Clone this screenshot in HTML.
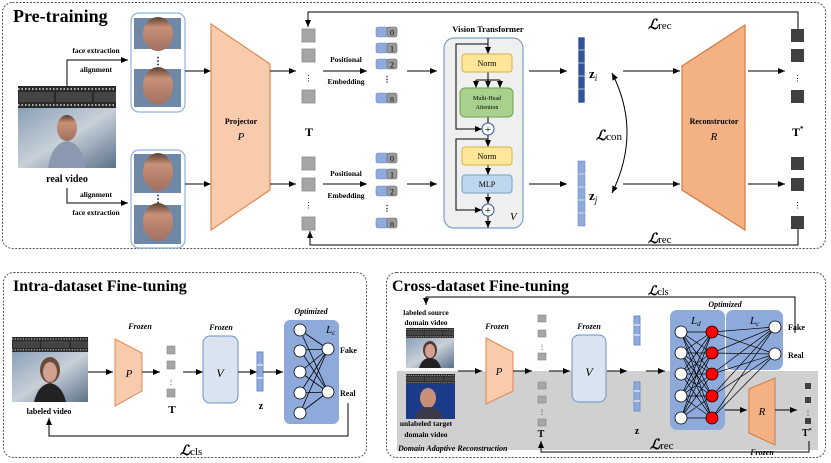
<!DOCTYPE html>
<html><head><meta charset="utf-8"><style>
body{margin:0;background:#fff}
svg{display:block}
text{font-family:"Liberation Serif",serif}
.b{font-weight:bold}
.fr{font-style:italic;font-weight:bold;font-size:8px}
.L{font-family:"DejaVu Serif","Liberation Serif",serif;font-style:italic;font-weight:bold}
.sub{font-style:normal;font-weight:normal;font-family:"Liberation Serif",serif}
</style></head><body>
<svg width="831" height="463" viewBox="0 0 831 463" xmlns="http://www.w3.org/2000/svg">
<defs>
<marker id="a" markerWidth="8" markerHeight="8" refX="7" refY="4" orient="auto" markerUnits="userSpaceOnUse"><path d="M0,1 L7,4 L0,7z" fill="#000"/></marker>
<marker id="as" markerWidth="8" markerHeight="8" refX="0" refY="4" orient="auto" markerUnits="userSpaceOnUse"><path d="M7,1 L0,4 L7,7z" fill="#000"/></marker>
<linearGradient id="bg1" x1="0" y1="0" x2="1" y2="1"><stop offset="0" stop-color="#8aa0b8"/><stop offset="0.5" stop-color="#c8d0d8"/><stop offset="1" stop-color="#5a7088"/></linearGradient>
<linearGradient id="face" x1="0" y1="0" x2="0" y2="1"><stop offset="0" stop-color="#5a4030"/><stop offset="0.3" stop-color="#c89078"/><stop offset="1" stop-color="#a07060"/></linearGradient>
<g id="film"><rect width="98" height="22" fill="#2a2a2a"/><line x1="0" y1="3" x2="98" y2="3" stroke="#ddd" stroke-width="1.5" stroke-dasharray="1.5,2"/><line x1="0" y1="19" x2="98" y2="19" stroke="#ddd" stroke-width="1.5" stroke-dasharray="1.5,2"/><rect x="1" y="6" width="35" height="10" fill="#444"/><rect x="38" y="6" width="36" height="10" fill="#444"/><rect x="76" y="6" width="22" height="10" fill="#444"/></g>
</defs>

<!-- Pre-training -->
<rect x="2.5" y="2.5" width="823" height="246" rx="10" fill="none" stroke="#555" stroke-dasharray="2,1.5"/>
<text x="13" y="22" class="b" font-size="18">Pre-training</text>

<use href="#film" x="18" y="86"/>
<rect x="18" y="108" width="98" height="60" fill="url(#bg1)"/>
<ellipse cx="67" cy="128" rx="10" ry="13" fill="url(#face)"/>
<path d="M48,168 Q52,143 67,141 Q82,143 86,168z" fill="#8a98b0"/>
<text x="67" y="182" text-anchor="middle" class="b" font-size="10">real video</text>
<path d="M67,86 V60 H128" fill="none" stroke="#000" marker-end="url(#a)"/>
<path d="M67,188 V203 H128" fill="none" stroke="#000" marker-end="url(#a)"/>
<g class="b" font-size="7.5" text-anchor="middle"><text x="96" y="53">face extraction</text><text x="96" y="72">alignment</text><text x="96" y="197">alignment</text><text x="96" y="215">face extraction</text></g>

<g fill="none" stroke="#8fb0e0" stroke-width="1.2"><rect x="131" y="13" width="54" height="99" rx="8"/><rect x="131" y="150" width="54" height="98" rx="8"/></g>
<g>
<rect x="134" y="18" width="47" height="31" fill="#7088a8"/><ellipse cx="158" cy="34" rx="15" ry="17" fill="url(#face)"/>
<rect x="134" y="69" width="47" height="38" fill="#7088a8"/><ellipse cx="158" cy="86" rx="15" ry="19" fill="url(#face)"/>
<rect x="134" y="154" width="47" height="39" fill="#7088a8"/><ellipse cx="158" cy="172" rx="15" ry="19" fill="url(#face)"/>
<rect x="134" y="205" width="47" height="39" fill="#7088a8"/><ellipse cx="158" cy="222" rx="15" ry="19" fill="url(#face)"/>
</g>
<text x="158" y="64" text-anchor="middle" font-size="10" class="b">⋮</text>
<text x="158" y="202" text-anchor="middle" font-size="10" class="b">⋮</text>
<line x1="185" y1="71" x2="211" y2="71" stroke="#000" marker-end="url(#a)"/>
<line x1="185" y1="184" x2="211" y2="184" stroke="#000" marker-end="url(#a)"/>

<polygon points="211,24 270,64 270,190 211,230" fill="#f8cbad" stroke="#e08850" stroke-width="1.2"/>
<text x="241" y="124" text-anchor="middle" class="b" font-size="8">Projector</text>
<text x="241" y="140" text-anchor="middle" font-style="italic" font-size="11">P</text>
<line x1="270" y1="71" x2="296" y2="71" stroke="#000" marker-end="url(#a)"/>
<line x1="270" y1="184" x2="296" y2="184" stroke="#000" marker-end="url(#a)"/>

<g fill="#a6a6a6" stroke="#888" stroke-width="0.8">
<rect x="302" y="29" width="13" height="13"/><rect x="302" y="49" width="13" height="13"/><rect x="302" y="90" width="13" height="13"/>
<rect x="302" y="157" width="13" height="13"/><rect x="302" y="178" width="13" height="13"/><rect x="302" y="217" width="13" height="13"/>
</g>
<text x="308.5" y="81" text-anchor="middle" font-size="8">⋮</text>
<text x="308.5" y="208" text-anchor="middle" font-size="8">⋮</text>
<text x="309" y="136" text-anchor="middle" class="b" font-size="12">T</text>

<line x1="323" y1="71" x2="367" y2="71" stroke="#000" marker-end="url(#a)"/>
<line x1="323" y1="184" x2="367" y2="184" stroke="#000" marker-end="url(#a)"/>
<g class="b" font-size="7.5" text-anchor="middle"><text x="346" y="62">Positional</text><text x="346" y="84">Embedding</text><text x="346" y="176">Positional</text><text x="346" y="198">Embedding</text></g>

<g font-family="Liberation Sans" font-size="8" text-anchor="middle">
<g transform="translate(376,27)"><rect width="12" height="10" rx="2" fill="#8faadc" stroke="#6d8fc8" stroke-width="0.6"/><rect x="11" width="10" height="10" rx="2" fill="#999" stroke="#666" stroke-width="0.6"/><text x="16" y="8.5">0</text></g>
<g transform="translate(376,43)"><rect width="12" height="10" rx="2" fill="#8faadc" stroke="#6d8fc8" stroke-width="0.6"/><rect x="11" width="10" height="10" rx="2" fill="#999" stroke="#666" stroke-width="0.6"/><text x="16" y="8.5">1</text></g>
<g transform="translate(376,59)"><rect width="12" height="10" rx="2" fill="#8faadc" stroke="#6d8fc8" stroke-width="0.6"/><rect x="11" width="10" height="10" rx="2" fill="#999" stroke="#666" stroke-width="0.6"/><text x="16" y="8.5">2</text></g>
<g transform="translate(376,93)"><rect width="12" height="10" rx="2" fill="#8faadc" stroke="#6d8fc8" stroke-width="0.6"/><rect x="11" width="10" height="10" rx="2" fill="#999" stroke="#666" stroke-width="0.6"/><text x="16" y="8.5">n</text></g>
<g transform="translate(376,153)"><rect width="12" height="10" rx="2" fill="#8faadc" stroke="#6d8fc8" stroke-width="0.6"/><rect x="11" width="10" height="10" rx="2" fill="#999" stroke="#666" stroke-width="0.6"/><text x="16" y="8.5">0</text></g>
<g transform="translate(376,169)"><rect width="12" height="10" rx="2" fill="#8faadc" stroke="#6d8fc8" stroke-width="0.6"/><rect x="11" width="10" height="10" rx="2" fill="#999" stroke="#666" stroke-width="0.6"/><text x="16" y="8.5">1</text></g>
<g transform="translate(376,186)"><rect width="12" height="10" rx="2" fill="#8faadc" stroke="#6d8fc8" stroke-width="0.6"/><rect x="11" width="10" height="10" rx="2" fill="#999" stroke="#666" stroke-width="0.6"/><text x="16" y="8.5">2</text></g>
<g transform="translate(376,218)"><rect width="12" height="10" rx="2" fill="#8faadc" stroke="#6d8fc8" stroke-width="0.6"/><rect x="11" width="10" height="10" rx="2" fill="#999" stroke="#666" stroke-width="0.6"/><text x="16" y="8.5">n</text></g>
</g>
<text x="387" y="82" text-anchor="middle" font-size="8" class="b">⋮</text>
<text x="387" y="211" text-anchor="middle" font-size="8" class="b">⋮</text>
<line x1="407" y1="71" x2="437" y2="71" stroke="#000" marker-end="url(#a)"/>
<line x1="407" y1="184" x2="437" y2="184" stroke="#000" marker-end="url(#a)"/>

<!-- ViT -->
<text x="488" y="32" text-anchor="middle" class="b" font-size="8.5">Vision Transformer</text>
<rect x="444" y="38" width="79" height="190" rx="10" fill="#efefef" stroke="#7aa0c8" stroke-width="1.2"/>
<g fill="none" stroke="#000" stroke-width="1">
<line x1="488" y1="38" x2="488" y2="54" marker-end="url(#a)"/>
<path d="M488,44 H456 V129 H482" marker-end="url(#a)"/>
<line x1="488" y1="72" x2="488" y2="88" marker-end="url(#a)"/>
<path d="M476,80 H500"/>
<line x1="476" y1="80" x2="476" y2="88" marker-end="url(#a)"/><line x1="500" y1="80" x2="500" y2="88" marker-end="url(#a)"/>
<line x1="488" y1="117" x2="488" y2="123"/>
<line x1="488" y1="135" x2="488" y2="147" marker-end="url(#a)"/>
<path d="M488,139 H456 V210 H482" marker-end="url(#a)"/>
<line x1="488" y1="165" x2="488" y2="175" marker-end="url(#a)"/>
<line x1="488" y1="193" x2="488" y2="204" marker-end="url(#a)"/>
<line x1="488" y1="216" x2="488" y2="228" marker-end="url(#a)"/>
</g>
<rect x="462" y="54" width="50" height="18" rx="3" fill="#ffe699" stroke="#d8b040"/>
<text x="487" y="66" text-anchor="middle" font-size="8">Norm</text>
<rect x="460" y="88" width="53" height="29" rx="5" fill="#a9d18e" stroke="#70a050"/>
<text x="487" y="100" text-anchor="middle" font-size="6">Multi-Head</text>
<text x="487" y="109" text-anchor="middle" font-size="6">Attention</text>
<circle cx="488" cy="129" r="6" fill="#fff" stroke="#2f5597"/><text x="488" y="133" text-anchor="middle" font-size="11" font-family="Liberation Sans">+</text>
<rect x="462" y="147" width="50" height="18" rx="3" fill="#ffe699" stroke="#d8b040"/>
<text x="487" y="159" text-anchor="middle" font-size="8">Norm</text>
<rect x="462" y="175" width="50" height="18" rx="3" fill="#bdd7ee" stroke="#7aa0c8"/>
<text x="487" y="187" text-anchor="middle" font-size="8">MLP</text>
<circle cx="488" cy="210" r="6" fill="#fff" stroke="#2f5597"/><text x="488" y="214" text-anchor="middle" font-size="11" font-family="Liberation Sans">+</text>
<text x="510" y="220" font-style="italic" font-size="11">V</text>

<line x1="529" y1="71" x2="567" y2="71" stroke="#000" marker-end="url(#a)"/>
<line x1="529" y1="184" x2="567" y2="184" stroke="#000" marker-end="url(#a)"/>
<g stroke="#fff" stroke-width="0.6">
<rect x="578" y="37" width="7" height="66" fill="#2f5597"/>
<line x1="578" y1="50" x2="585" y2="50"/><line x1="578" y1="63" x2="585" y2="63"/><line x1="578" y1="76" x2="585" y2="76"/><line x1="578" y1="89" x2="585" y2="89"/>
<rect x="578" y="161" width="7" height="65" fill="#8faadc" stroke="#6d8fc8"/>
<line x1="578" y1="174" x2="585" y2="174"/><line x1="578" y1="187" x2="585" y2="187"/><line x1="578" y1="200" x2="585" y2="200"/><line x1="578" y1="213" x2="585" y2="213"/>
</g>
<text x="589" y="78" class="b" font-size="13">z<tspan font-style="italic" font-weight="normal" font-size="9" dy="3">i</tspan></text>
<text x="589" y="200" class="b" font-size="13">z<tspan font-style="italic" font-weight="normal" font-size="9" dy="3">j</tspan></text>
<path d="M612,73 Q642,132 612,193" fill="none" stroke="#000" marker-end="url(#a)" marker-start="url(#as)"/>
<text x="596" y="140" class="L" font-size="14">ℒ<tspan class="sub" font-size="11">con</tspan></text>

<line x1="623" y1="71" x2="680" y2="71" stroke="#000" marker-end="url(#a)"/>
<line x1="623" y1="184" x2="680" y2="184" stroke="#000" marker-end="url(#a)"/>
<polygon points="682,66 745,25 745,230 682,190" fill="#f4b183" stroke="#d07a40" stroke-width="1.2"/>
<text x="714" y="124" text-anchor="middle" class="b" font-size="8">Reconstructor</text>
<text x="714" y="140" text-anchor="middle" font-style="italic" font-size="11">R</text>
<line x1="748" y1="71" x2="785" y2="71" stroke="#000" marker-end="url(#a)"/>
<line x1="748" y1="184" x2="785" y2="184" stroke="#000" marker-end="url(#a)"/>
<g fill="#404040">
<rect x="791" y="29" width="13" height="13"/><rect x="791" y="49" width="13" height="13"/><rect x="791" y="90" width="13" height="13"/>
<rect x="791" y="157" width="13" height="13"/><rect x="791" y="178" width="13" height="13"/><rect x="791" y="216" width="13" height="13"/>
</g>
<text x="797.5" y="81" text-anchor="middle" font-size="8">⋮</text>
<text x="797.5" y="208" text-anchor="middle" font-size="8">⋮</text>
<text x="792" y="136" class="b" font-size="12">T<tspan font-size="7" dy="-5">*</tspan></text>
<path d="M798,29 V12 H308 V27" fill="none" stroke="#000" marker-end="url(#a)"/>
<path d="M798,229 V245 H310 V231" fill="none" stroke="#000" marker-end="url(#a)"/>
<text x="648" y="29" class="L" font-size="14">ℒ<tspan class="sub" font-size="11">rec</tspan></text>
<text x="648" y="243" class="L" font-size="14">ℒ<tspan class="sub" font-size="11">rec</tspan></text>

<!-- Intra -->
<rect x="3.5" y="272.5" width="363" height="185" rx="10" fill="none" stroke="#555" stroke-dasharray="2,1.5"/>
<text x="13" y="291" class="b" font-size="16">Intra-dataset Fine-tuning</text>
<g transform="translate(12,337) scale(0.776,0.68)"><use href="#film"/></g>
<rect x="12" y="352" width="76" height="50" fill="url(#bg1)"/>
<ellipse cx="50" cy="370" rx="10" ry="13" fill="#6a4a38"/><ellipse cx="50" cy="372" rx="7" ry="10" fill="#d0a090"/>
<path d="M34,402 Q38,385 50,383 Q62,385 66,402z" fill="#222"/>
<text x="49" y="414" text-anchor="middle" class="b" font-size="8">labeled video</text>
<line x1="88" y1="372" x2="113" y2="372" stroke="#000" marker-end="url(#a)"/>
<text x="140" y="329" text-anchor="middle" class="fr">Frozen</text>
<polygon points="115,339 142,353 142,391 115,406" fill="#f8cbad" stroke="#e08850"/>
<text x="129" y="377" text-anchor="middle" font-style="italic" font-size="11">P</text>
<line x1="142" y1="372" x2="160" y2="372" stroke="#000" marker-end="url(#a)"/>
<g fill="#a6a6a6" stroke="#888" stroke-width="0.6"><rect x="167" y="346" width="8" height="8"/><rect x="167" y="361" width="8" height="8"/><rect x="167" y="389" width="8" height="8"/></g>
<text x="171" y="384" text-anchor="middle" font-size="6">⋮</text>
<text x="172" y="413" text-anchor="middle" class="b" font-size="11">T</text>
<line x1="183" y1="372" x2="203" y2="372" stroke="#000" marker-end="url(#a)"/>
<text x="221" y="330" text-anchor="middle" class="fr">Frozen</text>
<rect x="203" y="336" width="35" height="67" rx="7" fill="#dae3f0" stroke="#6d8fbf"/>
<text x="220" y="377" text-anchor="middle" font-style="italic" font-size="12">V</text>
<line x1="238" y1="372" x2="257" y2="372" stroke="#000" marker-end="url(#a)"/>
<rect x="257" y="352" width="6" height="39" fill="#8faadc" stroke="#6d8fc8"/>
<line x1="257" y1="365" x2="263" y2="365" stroke="#fff"/><line x1="257" y1="378" x2="263" y2="378" stroke="#fff"/>
<text x="261" y="409" text-anchor="middle" class="b" font-size="10">z</text>
<line x1="263" y1="372" x2="283" y2="372" stroke="#000" marker-end="url(#a)"/>
<text x="311" y="314" text-anchor="middle" class="fr">Optimized</text>
<rect x="284" y="320" width="55" height="104" rx="6" fill="#8eaadb"/>
<text x="326" y="333" font-style="italic" font-size="11">L<tspan font-size="7" dy="2">c</tspan></text>
<g stroke="#000" stroke-width="0.8">
<path d="M300,330 L328,349 M300,330 L328,392 M300,350 L328,349 M300,350 L328,392 M300,372 L328,349 M300,372 L328,392 M300,393 L328,349 M300,393 L328,392 M300,413 L328,349 M300,413 L328,392"/>
</g>
<g fill="#fff" stroke="#000" stroke-width="0.8">
<circle cx="300" cy="330" r="6"/><circle cx="300" cy="351" r="6"/><circle cx="300" cy="372" r="6"/><circle cx="300" cy="393" r="6"/><circle cx="300" cy="413" r="6"/>
<circle cx="328" cy="349" r="6"/><circle cx="328" cy="392" r="6"/>
</g>
<text x="340" y="353" class="b" font-size="8">Fake</text>
<text x="340" y="396" class="b" font-size="8">Real</text>
<path d="M348,403 V436 H49 V418" fill="none" stroke="#000" marker-end="url(#a)"/>
<text x="180" y="455" class="L" font-size="14">ℒ<tspan class="sub" font-size="11">cls</tspan></text>

<!-- Cross -->
<rect x="397" y="371" width="421" height="79" fill="#d0d0d0"/>
<rect x="386.5" y="272.5" width="439" height="185" rx="10" fill="none" stroke="#555" stroke-dasharray="2,1.5"/>
<text x="392" y="291" class="b" font-size="16">Cross-dataset Fine-tuning</text>
<text x="648" y="295" class="L" font-size="13">ℒ<tspan class="sub" font-size="10">cls</tspan></text>
<path d="M795,333 V297 H426 V305" fill="none" stroke="#000" marker-end="url(#a)"/>
<text x="426" y="315" text-anchor="middle" class="b" font-size="7.5">labeled source</text>
<text x="426" y="325" text-anchor="middle" class="b" font-size="7.5">domain video</text>
<g transform="translate(406,328) scale(0.49,0.45)"><use href="#film"/></g>
<rect x="406" y="338" width="48" height="30" fill="url(#bg1)"/>
<ellipse cx="430" cy="350" rx="7" ry="9" fill="#5a3a30"/><ellipse cx="430" cy="351" rx="5" ry="7" fill="#d0a090"/>
<path d="M419,368 Q422,358 430,358 Q438,358 441,368z" fill="#222"/>
<g transform="translate(406,374) scale(0.5,0.45)"><use href="#film"/></g>
<rect x="406" y="384" width="49" height="35" fill="#1a3a8a"/>
<ellipse cx="428" cy="398" rx="8" ry="10" fill="#c89078"/>
<path d="M414,419 Q418,407 428,407 Q440,407 444,419z" fill="#3a3a4a"/>
<text x="426" y="426" text-anchor="middle" class="b" font-size="7.5">unlabeled target</text>
<text x="426" y="437" text-anchor="middle" class="b" font-size="7.5">domain video</text>
<text x="398" y="451" font-style="italic" font-weight="bold" font-size="8">Domain Adaptive Reconstruction</text>
<line x1="458" y1="371" x2="482" y2="371" stroke="#000" marker-end="url(#a)"/>
<text x="497" y="329" text-anchor="middle" class="fr">Frozen</text>
<polygon points="486,338 513,352 513,391 486,404" fill="#f8cbad" stroke="#e08850"/>
<text x="499" y="375" text-anchor="middle" font-style="italic" font-size="11">P</text>
<line x1="513" y1="371" x2="532" y2="371" stroke="#000" marker-end="url(#a)"/>
<g fill="#a6a6a6" stroke="#888" stroke-width="0.6"><rect x="538" y="315" width="8" height="7"/><rect x="538" y="330" width="8" height="7"/><rect x="538" y="353" width="8" height="7"/><rect x="538" y="382" width="8" height="7"/><rect x="538" y="396" width="8" height="7"/><rect x="538" y="419" width="8" height="7"/></g>
<text x="542" y="349" text-anchor="middle" font-size="6">⋮</text>
<text x="542" y="414" text-anchor="middle" font-size="6">⋮</text>
<text x="541" y="437" text-anchor="middle" class="b" font-size="10">T</text>
<line x1="549" y1="371" x2="570" y2="371" stroke="#000" marker-end="url(#a)"/>
<text x="589" y="329" text-anchor="middle" class="fr">Frozen</text>
<rect x="572" y="335" width="34" height="67" rx="7" fill="#dae3f0" stroke="#6d8fbf"/>
<text x="589" y="376" text-anchor="middle" font-style="italic" font-size="12">V</text>
<line x1="607" y1="371" x2="627" y2="371" stroke="#000" marker-end="url(#a)"/>
<rect x="634" y="316" width="6" height="29" fill="#8faadc" stroke="#6d8fc8"/>
<line x1="634" y1="325" x2="640" y2="325" stroke="#fff"/><line x1="634" y1="335" x2="640" y2="335" stroke="#fff"/>
<rect x="634" y="382" width="6" height="29" fill="#8faadc" stroke="#6d8fc8"/>
<line x1="634" y1="391" x2="640" y2="391" stroke="#fff"/><line x1="634" y1="401" x2="640" y2="401" stroke="#fff"/>
<text x="637" y="434" text-anchor="middle" class="b" font-size="10">z</text>
<line x1="646" y1="371" x2="665" y2="371" stroke="#000" marker-end="url(#a)"/>
<text x="725" y="307" text-anchor="middle" class="fr">Optimized</text>
<rect x="670" y="310" width="55" height="120" rx="7" fill="#8eaadb"/>
<rect x="726" y="310" width="57" height="60" rx="7" fill="#8eaadb"/>
<text x="691" y="324" font-style="italic" font-size="11">L<tspan font-size="7" dy="2">d</tspan></text>
<text x="750" y="324" font-style="italic" font-size="11">L<tspan font-size="7" dy="2">c</tspan></text>
<g stroke="#000" stroke-width="0.7">
<path d="M681,332 L712,332 M681,332 L712,353 M681,332 L712,374 M681,332 L712,396 M681,332 L712,418
M681,353 L712,332 M681,353 L712,353 M681,353 L712,374 M681,353 L712,396 M681,353 L712,418
M681,374 L712,332 M681,374 L712,353 M681,374 L712,374 M681,374 L712,396 M681,374 L712,418
M681,396 L712,332 M681,396 L712,353 M681,396 L712,374 M681,396 L712,396 M681,396 L712,418
M681,418 L712,332 M681,418 L712,353 M681,418 L712,374 M681,418 L712,396 M681,418 L712,418
M712,332 L775,327 M712,332 L775,354 M712,353 L775,327 M712,353 L775,354 M712,374 L775,327 M712,374 L775,354 M712,396 L775,327 M712,396 L775,354 M712,418 L775,327 M712,418 L775,354"/>
</g>
<g stroke="#000" stroke-width="0.8">
<g fill="#fff"><circle cx="681" cy="332" r="6"/><circle cx="681" cy="353" r="6"/><circle cx="681" cy="374" r="6"/><circle cx="681" cy="396" r="6"/><circle cx="681" cy="418" r="6"/><circle cx="775" cy="327" r="6"/><circle cx="775" cy="354" r="6"/></g>
<g fill="#f00"><circle cx="712" cy="332" r="6"/><circle cx="712" cy="353" r="6"/><circle cx="712" cy="374" r="6"/><circle cx="712" cy="396" r="6"/><circle cx="712" cy="418" r="6"/></g>
</g>
<text x="788" y="330" class="b" font-size="8">Fake</text>
<text x="788" y="358" class="b" font-size="8">Real</text>
<line x1="725" y1="410" x2="747" y2="410" stroke="#000" marker-end="url(#a)"/>
<polygon points="749,389 775,378 775,445 749,433" fill="#f4b183" stroke="#d07a40"/>
<text x="762" y="415" text-anchor="middle" font-style="italic" font-size="11">R</text>
<text x="762" y="455" text-anchor="middle" class="fr">Frozen</text>
<line x1="775" y1="410" x2="797" y2="410" stroke="#000" marker-end="url(#a)"/>
<g fill="#404040"><rect x="805" y="383" width="6" height="6"/><rect x="805" y="397" width="6" height="6"/><rect x="805" y="418" width="6" height="6"/></g>
<text x="808" y="415" text-anchor="middle" font-size="6">⋮</text>
<text x="802" y="436" class="b" font-size="10">T<tspan font-size="6" dy="-4">*</tspan></text>
<path d="M809,441 V452 H541 V441" fill="none" stroke="#000" marker-end="url(#a)"/>
<text x="650" y="449" class="L" font-size="14">ℒ<tspan class="sub" font-size="11">rec</tspan></text>
</svg>
</body></html>
